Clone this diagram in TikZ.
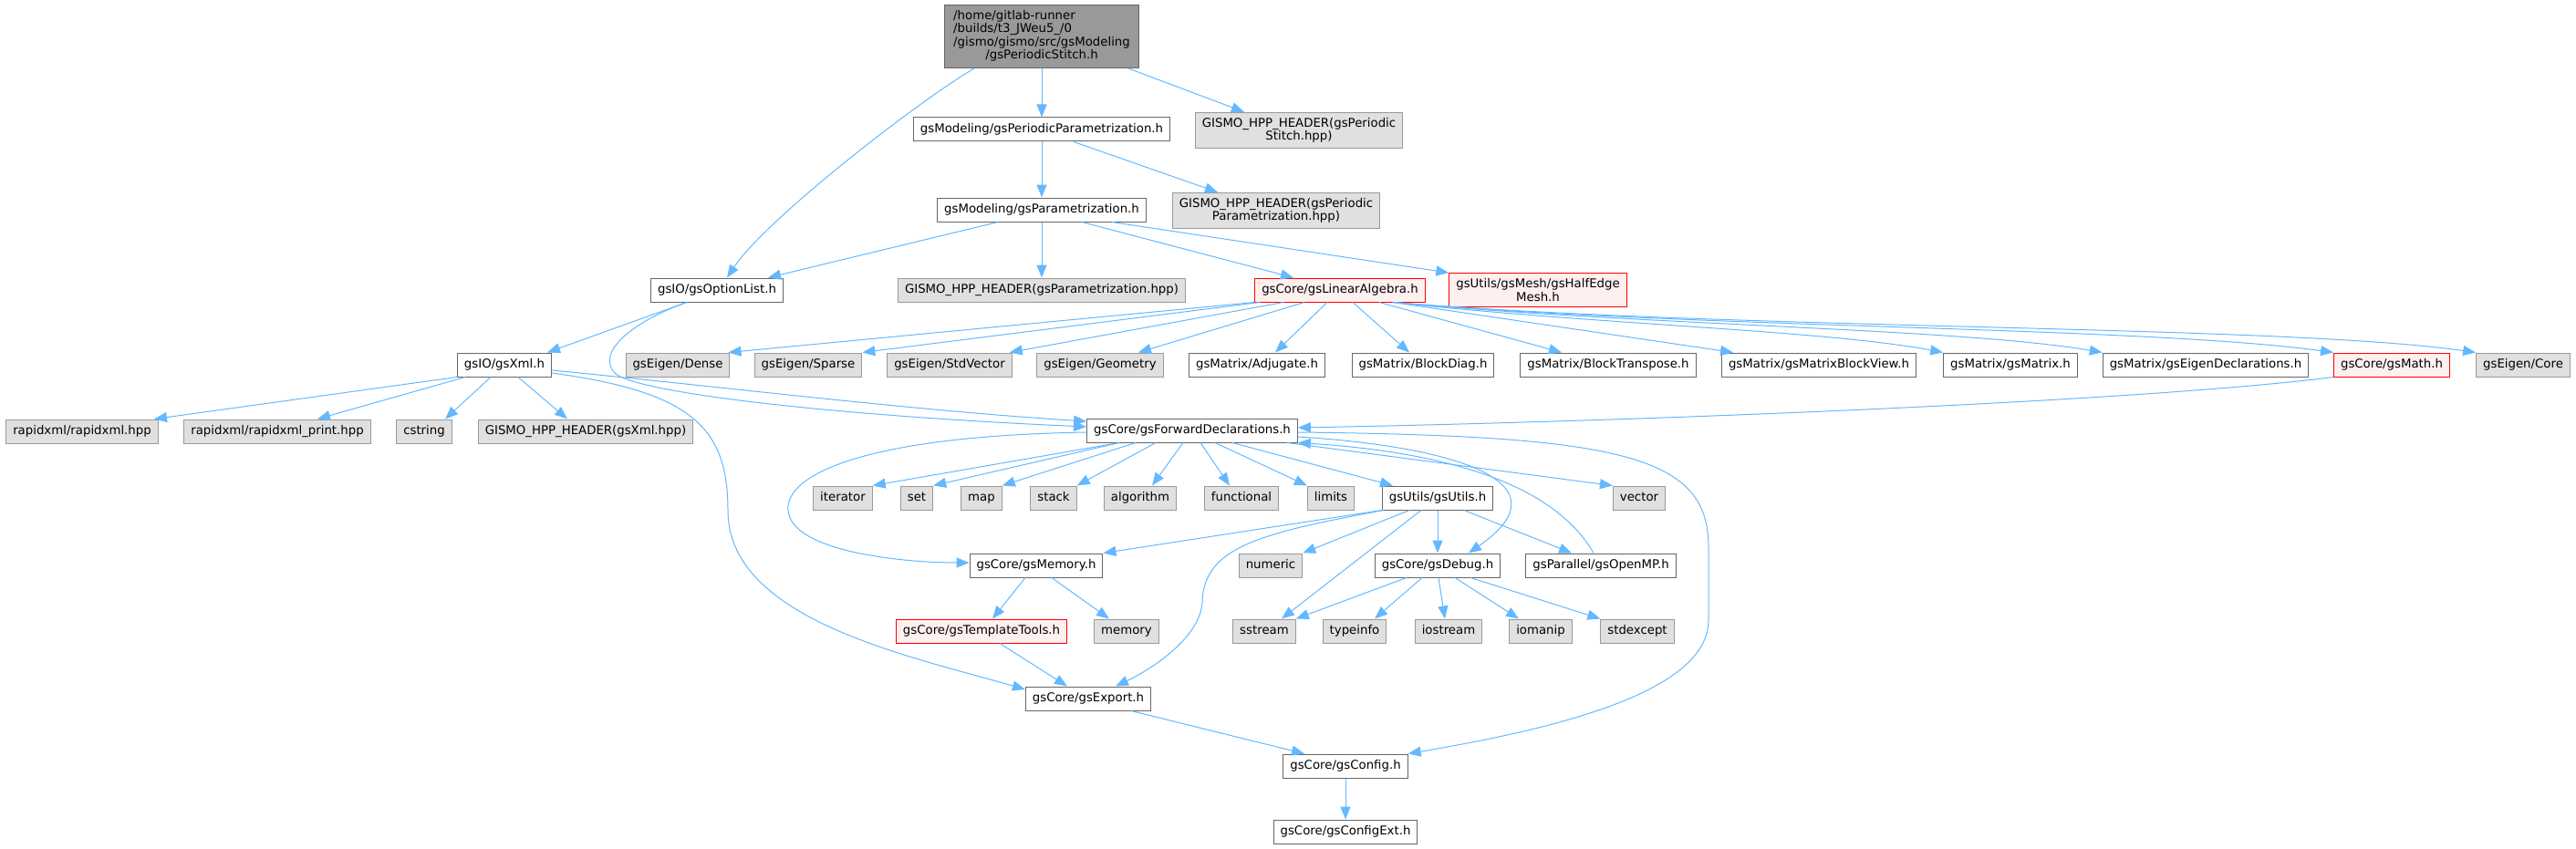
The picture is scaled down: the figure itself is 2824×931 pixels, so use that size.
\documentclass[tikz,border=0pt]{standalone}
\usepackage{fontspec}
\setmainfont{DejaVu Sans}
\usetikzlibrary{arrows.meta}
\definecolor{incblue}{RGB}{99,184,255}
\definecolor{nodeline}{RGB}{102,102,102}
\definecolor{rootfill}{RGB}{153,153,153}
\definecolor{sysline}{RGB}{153,153,153}
\definecolor{sysfill}{RGB}{224,224,224}
\definecolor{cutline}{RGB}{255,0,0}
\definecolor{cutfill}{RGB}{255,240,240}

\begin{document}
\begin{tikzpicture}[
  x=1pt, y=-1pt,
  fbase/.style={rectangle, inner xsep=7.5pt, inner ysep=6.5pt, line width=1pt,
                font=\fontsize{13.3}{14.5}\selectfont},
  oneln/.style={text height=10pt, text depth=3pt},
  hdr/.style={fbase, oneln, draw=nodeline, fill=white},
  sys/.style={fbase, oneln, draw=sysline, fill=sysfill},
  cut/.style={fbase, oneln, draw=cutline, fill=cutfill},
  sys2/.style={fbase, align=center, inner ysep=6pt, draw=sysline, fill=sysfill},
  cut2/.style={fbase, align=center, inner ysep=6pt, draw=cutline, fill=cutfill},
  topfile/.style={fbase, inner xsep=10pt, inner ysep=5.5pt, draw=nodeline, fill=rootfill},
  inc/.style={-{Triangle[length=14pt,width=11pt]}, line width=1pt, incblue}
]
\useasboundingbox (0,0) rectangle (2824,931);

% upper part
\node[topfile] (root) at (1142,40) {\begin{tabular}{@{}l@{}}/home/gitlab-runner\\/builds/t3\_JWeu5\_/0\\/gismo/gismo/src/gsModeling\\\multicolumn{1}{@{}c@{}}{/gsPeriodicStitch.h}\end{tabular}};
\node[hdr] (ppar) at (1142,142) {gsModeling/gsPeriodicParametrization.h};
\node[sys2] (hstitch) at (1424,143) {GISMO\_HPP\_HEADER(gsPeriodic\\Stitch.hpp)};
\node[hdr] (par) at (1142,230) {gsModeling/gsParametrization.h};
\node[sys2] (hppar) at (1399,231) {GISMO\_HPP\_HEADER(gsPeriodic\\Parametrization.hpp)};
\node[hdr] (opl) at (786,318) {gsIO/gsOptionList.h};
\node[sys] (hpar) at (1142,318) {GISMO\_HPP\_HEADER(gsParametrization.hpp)};
\node[cut] (la) at (1469,318) {gsCore/gsLinearAlgebra.h};
\node[cut2] (mesh) at (1686,318) {gsUtils/gsMesh/gsHalfEdge\\Mesh.h};

\node[hdr] (xml) at (553,400) {gsIO/gsXml.h};
\node[sys] (dense) at (743,400) {gsEigen/Dense};
\node[sys] (sparse) at (886,400) {gsEigen/Sparse};
\node[sys] (stdvec) at (1041,400) {gsEigen/StdVector};
\node[sys] (geom) at (1206,400) {gsEigen/Geometry};
\node[hdr] (adj) at (1378,400) {gsMatrix/Adjugate.h};
\node[hdr] (bdiag) at (1560,400) {gsMatrix/BlockDiag.h};
\node[hdr] (btrans) at (1763,400) {gsMatrix/BlockTranspose.h};
\node[hdr] (bview) at (1994,400) {gsMatrix/gsMatrixBlockView.h};
\node[hdr] (gsmatrix) at (2204,400) {gsMatrix/gsMatrix.h};
\node[hdr] (eigdecl) at (2418,400) {gsMatrix/gsEigenDeclarations.h};
\node[cut] (gsmath) at (2622,400) {gsCore/gsMath.h};
\node[sys] (core) at (2766,400) {gsEigen/Core};

\node[sys] (rapid) at (90,473) {rapidxml/rapidxml.hpp};
\node[sys] (rprint) at (304,473) {rapidxml/rapidxml\_print.hpp};
\node[sys] (cstring) at (465,473) {cstring};
\node[sys] (hxml) at (642,473) {GISMO\_HPP\_HEADER(gsXml.hpp)};
\node[hdr] (fd) at (1307,472) {gsCore/gsForwardDeclarations.h};

% lower part
\node[sys] (iterator) at (924,546) {iterator};
\node[sys] (set) at (1005,546) {set};
\node[sys] (map) at (1076,546) {map};
\node[sys] (stack) at (1155,546) {stack};
\node[sys] (algorithm) at (1250,546) {algorithm};
\node[sys] (functional) at (1361,546) {functional};
\node[sys] (limits) at (1459,546) {limits};
\node[hdr] (utils) at (1576,546) {gsUtils/gsUtils.h};
\node[sys] (vector) at (1797,546) {vector};

\node[hdr] (gsmemory) at (1136,620) {gsCore/gsMemory.h};
\node[sys] (numeric) at (1393,620) {numeric};
\node[hdr] (debug) at (1576,620) {gsCore/gsDebug.h};
\node[hdr] (openmp) at (1755,620) {gsParallel/gsOpenMP.h};

\node[cut] (ttools) at (1076,692) {gsCore/gsTemplateTools.h};
\node[sys] (memory) at (1235,692) {memory};
\node[sys] (sstream) at (1386,692) {sstream};
\node[sys] (typeinfo) at (1485,692) {typeinfo};
\node[sys] (iostream) at (1588,692) {iostream};
\node[sys] (iomanip) at (1689,692) {iomanip};
\node[sys] (stdexcept) at (1795,692) {stdexcept};

\node[hdr] (export) at (1193,766) {gsCore/gsExport.h};
\node[hdr] (config) at (1475,840) {gsCore/gsConfig.h};
\node[hdr] (configext) at (1475,912) {gsCore/gsConfigExt.h};

% includes of the top files
\draw[inc] ([xshift=-74pt]root.south) .. controls (1008,110) and (840,240) .. ([xshift=11pt]opl.north);
\draw[inc] (root) -- (ppar);
\draw[inc] ([xshift=95pt]root.south) -- ([xshift=-60pt]hstitch.north);
\draw[inc] (ppar) -- (par);
\draw[inc] ([xshift=35pt]ppar.south) -- ([xshift=-64pt]hppar.north);
\draw[inc] ([xshift=-48pt]par.south) -- ([xshift=56pt]opl.north);
\draw[inc] (par) -- (hpar);
\draw[inc] ([xshift=44pt]par.south) -- ([xshift=-51pt]la.north);
\draw[inc] ([xshift=77pt]par.south) -- (mesh.north west);
\draw[inc] ([xshift=-33pt]opl.south) -- ([xshift=47pt]xml.north);
\draw[inc] ([xshift=-33pt]opl.south) .. controls (700,350) and (650,385) .. (675,410)
           .. controls (700,430) and (900,455) .. ([yshift=4pt]fd.west);

% gsXml
\draw[inc] (xml.south west) -- ([xshift=79pt]rapid.north);
\draw[inc] ([xshift=-43pt]xml.south) -- ([xshift=44pt]rprint.north);
\draw[inc] ([xshift=-15pt]xml.south) -- ([xshift=23pt]cstring.north);
\draw[inc] ([xshift=15pt]xml.south) -- ([xshift=-20pt]hxml.north);
\draw[inc] ([yshift=-6pt]xml.east) .. controls (800,425) and (1000,450) .. ([yshift=10pt]fd.west);
\draw[inc] ([yshift=-9pt]xml.east) .. controls (760,430) and (798,470) .. (798,560)
           .. controls (798,680) and (1000,720) .. ([yshift=10pt]export.west);

% gsLinearAlgebra
\draw[inc] (la.south west) -- ([xshift=-2pt]dense.north east);
\draw[inc] ([xshift=6pt]la.south west) -- (sparse.north east);
\draw[inc] ([xshift=-62pt]la.south) -- ([xshift=-3pt]stdvec.north east);
\draw[inc] ([xshift=-39pt]la.south) -- ([xshift=42pt]geom.north);
\draw[inc] ([xshift=-14pt]la.south) -- ([xshift=20pt]adj.north);
\draw[inc] ([xshift=14pt]la.south) -- ([xshift=-15pt]bdiag.north);
\draw[inc] ([xshift=43pt]la.south) -- ([xshift=-51pt]btrans.north);
\draw[inc] ([xshift=58pt]la.south) -- ([xshift=13pt]bview.north west);
\draw[inc] ([xshift=58pt]la.south) .. controls (1750,356) and (2000,362) .. (gsmatrix.north west);
\draw[inc] ([xshift=58pt]la.south) .. controls (1800,357) and (2150,360) .. (eigdecl.north west);
\draw[inc] ([xshift=58pt]la.south) .. controls (1850,360) and (2350,358) .. (gsmath.north west);
\draw[inc] ([xshift=58pt]la.south) .. controls (1900,362) and (2500,356) .. (core.north west);
\draw[inc] (gsmath.south west) .. controls (2350,440) and (1800,462) .. ([yshift=3pt]fd.east);

% gsForwardDeclarations
\draw[inc] ([xshift=-80pt]fd.south) -- (iterator.north east);
\draw[inc] ([xshift=-80pt]fd.south) -- (set.north east);
\draw[inc] ([xshift=-62pt]fd.south) -- (map.north east);
\draw[inc] ([xshift=-40pt]fd.south) -- (stack.north east);
\draw[inc] ([xshift=-10pt]fd.south) -- ([xshift=13pt]algorithm.north);
\draw[inc] ([xshift=9pt]fd.south) -- ([xshift=-13pt]functional.north);
\draw[inc] ([xshift=25pt]fd.south) -- (limits.north west);
\draw[inc] ([xshift=44pt]fd.south) -- ([xshift=-49pt]utils.north);
\draw[inc] ([xshift=-12pt]fd.south east) -- (vector.north west);
\draw[inc] ([yshift=-7pt]fd.east) .. controls (1600,490) and (1720,530) .. ([xshift=34pt]debug.north);
\draw[inc] ([yshift=-2pt]fd.east) .. controls (1780,478) and (1873,500) .. (1873,600)
           -- (1873,680) .. controls (1873,760) and (1700,800) .. (config.north east);
\draw[inc] ([yshift=-2pt]fd.west) .. controls (950,478) and (860,520) .. (864,560)
           .. controls (868,605) and (990,617) .. ([yshift=3pt]gsmemory.west);
\draw[inc] ([xshift=-8pt]openmp.north) .. controls (1720,560) and (1650,500) .. (fd.south east);

% gsUtils
\draw[inc] (utils.south west) -- (gsmemory.north east);
\draw[inc] ([xshift=2pt]utils.south west) .. controls (1380,585) and (1320,600) .. (1318,660)
           .. controls (1316,700) and (1260,735) .. ([xshift=30pt]export.north);
\draw[inc] ([xshift=-31pt]utils.south) -- (numeric.north east);
\draw[inc] ([xshift=-18pt]utils.south) -- ([xshift=19pt]sstream.north);
\draw[inc] (utils) -- (debug);
\draw[inc] ([xshift=29pt]utils.south) -- ([xshift=-32pt]openmp.north);

% gsDebug
\draw[inc] ([xshift=-34pt]debug.south) -- (sstream.north east);
\draw[inc] ([xshift=-17pt]debug.south) -- ([xshift=22pt]typeinfo.north);
\draw[inc] ([xshift=1pt]debug.south) -- ([xshift=-4pt]iostream.north);
\draw[inc] ([xshift=19pt]debug.south) -- ([xshift=-24pt]iomanip.north);
\draw[inc] ([xshift=36pt]debug.south) -- (stdexcept.north west);

% gsMemory and below
\draw[inc] ([xshift=-12pt]gsmemory.south) -- ([xshift=12pt]ttools.north);
\draw[inc] ([xshift=17pt]gsmemory.south) -- ([xshift=-19pt]memory.north);
\draw[inc] ([xshift=20pt]ttools.south) -- ([xshift=-23pt]export.north);
\draw[inc] ([xshift=47pt]export.south) -- ([xshift=-45pt]config.north);
\draw[inc] (config) -- (configext);
\end{tikzpicture}
\end{document}
